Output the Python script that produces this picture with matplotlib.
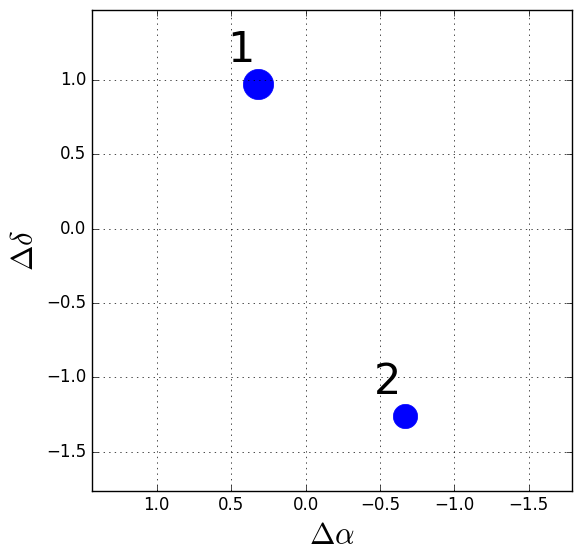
import matplotlib
matplotlib.use("Agg")
import matplotlib.pyplot as plt

# source positions (offsets in arcsec)
labels = ["1", "2"]
d_alpha = [0.319, -0.672]
d_delta = [0.970, -1.262]
marker_size = [21.8, 17.5]   # points

plt.style.use("classic")
plt.rcParams["figure.facecolor"] = "white"
plt.rcParams["savefig.facecolor"] = "white"

fig = plt.figure(figsize=(5.8, 5.58), dpi=100)
ax = fig.add_axes([0.158, 0.1206, 0.828, 0.8615])

for lab, x, y, ms in zip(labels, d_alpha, d_delta, marker_size):
    ax.plot(x, y, "o", color="b", markeredgecolor="b", markersize=ms)
    ax.text(x + 0.21, y + 0.15, lab, fontsize=31)

# pad y by 0.5, then match x span so the scale is equal
pad = 0.5
ylo, yhi = min(d_delta) - pad, max(d_delta) + pad
bb = ax.get_position()
ratio = (bb.width * fig.get_figwidth()) / (bb.height * fig.get_figheight())
half = (yhi - ylo) / 2.0 * ratio
xc = (min(d_alpha) + max(d_alpha)) / 2.0
ax.set_ylim(ylo, yhi)
ax.set_xlim(xc + half, xc - half)   # RA increases to the left

ax.grid(True)
ax.set_xlabel(r"$\Delta\alpha$", fontsize=22)
ax.set_ylabel(r"$\Delta\delta$", fontsize=22)

fig.savefig("out.png", dpi=100)
